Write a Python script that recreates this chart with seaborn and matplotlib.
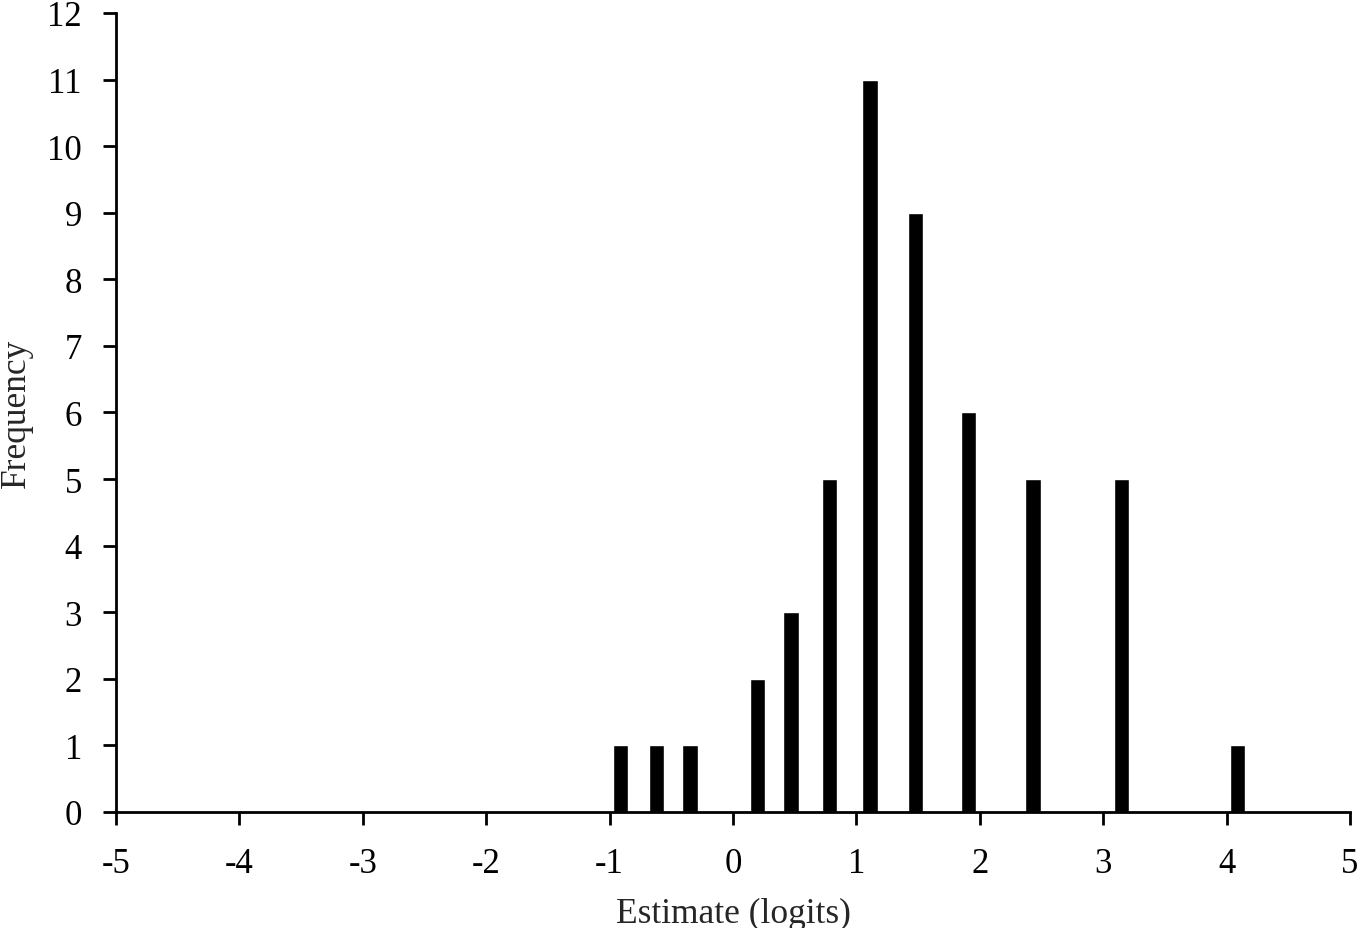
import matplotlib
matplotlib.use("Agg")
import matplotlib.pyplot as plt
import numpy as np
import pandas as pd
import seaborn as sns

# item estimates (logits) and how many items sit at each
estimates = [-0.91, -0.62, -0.35, 0.20, 0.47, 0.78, 1.11, 1.48, 1.91, 2.43, 3.15, 4.09]
frequency = [1, 1, 1, 2, 3, 5, 11, 9, 6, 5, 5, 1]
x_ticks = list(range(-5, 6))
y_ticks = list(range(0, 13))

sns.set_theme(style="white")
plt.rcParams['font.family'] = ['Liberation Serif', 'DejaVu Serif']

df = pd.DataFrame({'estimate': estimates, 'freq': frequency})

fig = plt.figure(figsize=(13.63, 9.29), dpi=100)
ax = fig.add_axes([0.0851, 0.1249, 0.9054, 0.8601])

# bars ~0.1 logit wide; seaborn scales width by the narrowest gap (and 0.8)
min_gap = np.diff(np.sort(estimates)).min()
sns.barplot(data=df, x='estimate', y='freq', native_scale=True,
            width=0.125 / min_gap, color='black', saturation=1, ax=ax)

ax.set_xlim(-5, 5)
ax.set_ylim(0, 12)
ax.set_xticks(x_ticks)
ax.set_yticks(y_ticks)
ax.set_xticklabels([str(t) for t in x_ticks])
ax.set_yticklabels([str(t) for t in y_ticks])
ax.set_xlabel('Estimate (logits)', fontsize=25.5, labelpad=12)
ax.set_ylabel('Frequency', fontsize=25.5, labelpad=10)

for side in ['top', 'right']:
    ax.spines[side].set_visible(False)
for side in ['left', 'bottom']:
    ax.spines[side].set_color('black')
    ax.spines[side].set_linewidth(2)
ax.tick_params(axis='both', which='major', labelsize=25, direction='out',
               length=9.5, width=2, color='black', labelcolor='black',
               bottom=True, left=True)
ax.tick_params(axis='x', pad=16)
ax.tick_params(axis='y', pad=15)

fig.savefig('out.png', dpi=100)
